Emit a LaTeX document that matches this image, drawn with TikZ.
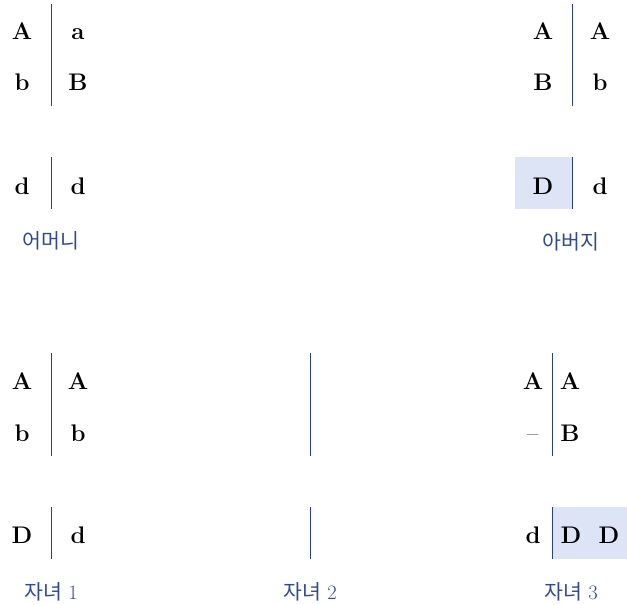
\documentclass[tikz,border=0pt]{standalone}
\usepackage{fontspec}
\newfontfamily\krfont{Noto Sans CJK KR}
\definecolor{linec}{HTML}{2B3F8C}
\definecolor{labc}{HTML}{2E4A93}
\definecolor{boxfill}{HTML}{DDE4F5}
\begin{document}
\begin{tikzpicture}[x=1pt,y=-1pt,
  gene/.style={font=\fontsize{24}{24}\selectfont\bfseries, inner sep=0pt, anchor=base},
  lab/.style={font=\fontsize{20.5}{20.5}\selectfont, text=labc, inner sep=0pt},
  divider/.style={draw=linec, line width=1pt}]
\useasboundingbox (0,0) rectangle (627,605);
% shaded boxes
\fill[boxfill] (515,157) rectangle (572,209);
\fill[boxfill] (553,507) rectangle (627,559);
% dividers
\draw[divider] (51,4) -- (51,106);
\draw[divider] (51,157) -- (51,209);
\draw[divider] (572,4) -- (572,106);
\draw[divider] (572,157) -- (572,209);
\draw[divider] (51,353) -- (51,456);
\draw[divider] (51,507) -- (51,559);
\draw[divider] (310,353) -- (310,456);
\draw[divider] (310,507) -- (310,559);
\draw[divider] (552,353) -- (552,456);
\draw[divider] (552,507) -- (552,559);
% mother
\node[gene] (m1) at (22,39) {A};
\node[gene] (m2) at (78,39) {a};
\node[gene] (m3) at (22,90) {b};
\node[gene] (m4) at (78,90) {B};
\node[gene] (m5) at (22,194) {d};
\node[gene] (m6) at (78,194) {d};
\node[lab] (ml) at (51,241) {\krfont 어머니};
% father
\node[gene] (f1) at (543,39) {A};
\node[gene] (f2) at (600,39) {A};
\node[gene] (f3) at (543,90) {B};
\node[gene] (f4) at (600,90) {b};
\node[gene] (f5) at (543,194) {D};
\node[gene] (f6) at (600,194) {d};
\node[lab] (fl) at (571,242) {\krfont 아버지};
% child 1
\node[gene] (a1) at (22,389) {A};
\node[gene] (a2) at (78,389) {A};
\node[gene] (a3) at (22,441) {b};
\node[gene] (a4) at (78,441) {b};
\node[gene] (a5) at (22,543) {D};
\node[gene] (a6) at (78,543) {d};
\node[lab] (al) at (51,592) {{\krfont 자녀} 1};
% child 2
\node[lab] (bl) at (310,592) {{\krfont 자녀} 2};
% child 3
\node[gene] (c1) at (533,389) {A};
\node[gene] (c2) at (570,389) {A};
\node[gene,font=\fontsize{24}{24}\selectfont] (c3) at (533,441) {–};
\node[gene] (c4) at (570,441) {B};
\node[gene] (c5) at (533,543) {d};
\node[gene] (c6) at (571,543) {D};
\node[gene] (c7) at (609,543) {D};
\node[lab] (cl) at (571,592) {{\krfont 자녀} 3};
\end{tikzpicture}
\end{document}
